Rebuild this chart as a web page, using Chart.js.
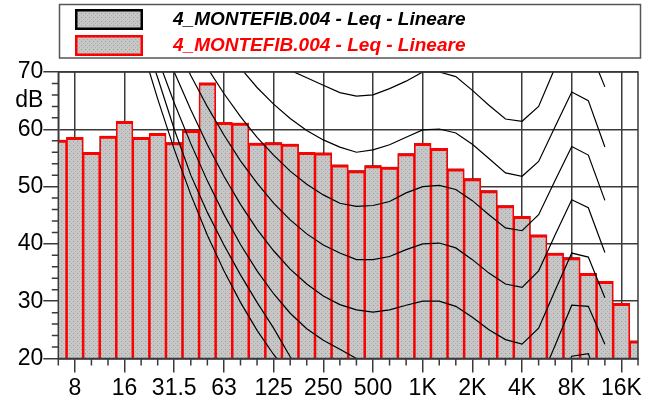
<!DOCTYPE html>
<html>
<head>
<meta charset="utf-8">
<script src="https://cdn.jsdelivr.net/npm/chart.js@4.4.1/dist/chart.umd.min.js"></script>
<style>
  html, body { margin: 0; padding: 0; background: #ffffff; }
  #wrap { width: 651px; height: 403px; position: relative; }
</style>
</head>
<body>
<div id="wrap"><canvas id="spectrum" width="651" height="403"></canvas></div>
<script>
// Third-octave band centres (Hz), 6.3 Hz .. 20 kHz
const bands = ['6.3','8','10','12.5','16','20','25','31.5','40','50','63','80','100','125','160','200','250','315','400','500','630','800','1K','1.25K','1.6K','2K','2.5K','3.15K','4K','5K','6.3K','8K','10K','12.5K','16K','20K'];
// Octave bands that carry a label and a vertical grid line
const octaveLabels = ['8','16','31.5','63','125','250','500','1K','2K','4K','8K','16K'];

// Linear Leq per band (dB)
const leq = [58.1,58.6,56.0,58.8,61.4,58.6,59.3,57.7,59.8,68.1,61.2,61.1,57.6,57.7,57.4,56.0,55.9,53.8,52.8,53.65,53.4,55.75,57.55,56.7,53.1,51.4,49.3,46.7,44.8,41.6,38.4,37.6,34.85,33.45,29.65,23.1];

// Equal-loudness contours (dB per band, null where not drawn)
const phon0  = [null,null,null,null,85,74.8,65.3,56.5,48.6,41.5,35.3,29.8,24.9,20.7,17.0,14.0,null,null,null,null,null,null,null,null,null,null,null,null,null,null,null,null,null,null,null,null];
const phon10 = [null,null,null,null,88,77.5,69,60,52,45.5,39.8,34.6,29.8,25.3,20.3,16.5,14,12.5,11.5,10.8,10.3,10,10,10,9.3,7.5,5.3,4,3.3,6.3,13.5,20.4,20.85,13.2,null,null];
const phon20 = [null,null,null,null,null,80.8,72.4,64.6,57.5,51.0,45.15,39.9,35.3,31.3,27.9,25.2,23.2,21.6,20.0,19.2,19.1,19.5,20.0,20.0,19.1,17.4,15.3,13.8,13.0,15.5,22.3,29.3,29.1,22.5,null,null];
const phon30 = [null,null,null,null,null,null,77.2,70.0,63.4,57.3,51.8,46.9,42.55,38.8,35.6,33.0,30.9,29.4,28.5,28.1,28.5,29.3,30.0,30.0,29.1,27.2,25.0,23.3,22.5,25.3,31.9,38.4,37.7,30.6,null,null];
const phon40 = [null,null,null,null,null,null,null,75.4,69.4,63.95,59.0,54.5,50.6,47.1,44.2,41.75,39.8,38.4,37.25,37.25,37.8,39.0,40.0,40.15,39.3,37.25,34.9,33.0,32.4,35.3,41.6,47.7,46.3,38.5,null,null];
const phon50 = [null,null,null,null,null,null,null,null,75.6,70.7,66.25,62.2,58.6,55.5,52.7,50.4,48.55,47.1,46.55,46.7,47.4,48.9,50.0,50.2,49.5,47.55,45.1,42.8,42.3,45.1,51.1,57.0,55.5,47.6,null,null];
const phon60 = [null,null,null,null,null,null,null,null,null,null,74.5,70.7,67.3,64.4,61.9,59.8,58.15,56.9,56.0,56.4,57.3,58.6,59.9,60.05,59.35,57.4,54.9,52.4,51.8,54.4,60.5,66.5,65.0,56.9,null,null];
const phon70 = [null,null,null,null,null,null,null,null,null,null,null,null,74.5,72.3,70.3,69.0,67.7,66.4,65.8,66.0,67.1,68.4,70.0,70.0,69.2,66.8,64.2,61.8,61.4,64.0,70.8,76.2,74.5,67.4,null,null];
const contours = [phon0, phon10, phon20, phon30, phon40, phon50, phon60, phon70];

// Y axis range and steps (dB)
const yMin = 20, yMax = 70, yLabelStep = 10, yMinorStep = 2;

const FONT = '"Liberation Sans", Arial, Helvetica, sans-serif';
const GRID = '#3a3a3a';
const SERIES_NAME = '4_MONTEFIB.004 - Leq - Lineare';

const canvas = document.getElementById('spectrum');
const ctx2d = canvas.getContext('2d');

// Dotted grey fill used for the bars and the legend swatches
function makeStipple() {
  const t = document.createElement('canvas');
  t.width = 4; t.height = 4;
  const g = t.getContext('2d');
  g.fillStyle = '#c6c6c6'; g.fillRect(0, 0, 4, 4);
  g.fillStyle = '#9c9c9c'; g.fillRect(1, 1, 1, 1);
  g.fillStyle = '#b2b2b2'; g.fillRect(3, 3, 1, 1);
  return ctx2d.createPattern(t, 'repeat');
}
const stipple = makeStipple();

const isOctave = i => octaveLabels.includes(bands[i]);

// Short minor tick marks on both axes
const minorTicks = {
  id: 'minorTicks',
  afterDraw(chart) {
    const { ctx, chartArea: a, scales: { x, y } } = chart;
    ctx.save();
    ctx.strokeStyle = GRID;
    ctx.lineWidth = 1.5;
    ctx.beginPath();
    bands.forEach((b, i) => {
      if (isOctave(i)) return;
      const px = x.getPixelForValue(i);
      ctx.moveTo(px, a.bottom);
      ctx.lineTo(px, a.bottom + 7);
    });
    for (let v = yMin; v <= yMax; v += yMinorStep) {
      if (v % yLabelStep === 0) continue;
      const py = y.getPixelForValue(v);
      ctx.moveTo(a.left - 6.5, py);
      ctx.lineTo(a.left, py);
    }
    ctx.stroke();
    ctx.restore();
  }
};

// Frame round the plotting area, above the bars
const plotFrame = {
  id: 'plotFrame',
  afterDatasetsDraw(chart) {
    const { ctx, chartArea: a } = chart;
    ctx.save();
    ctx.strokeStyle = GRID;
    ctx.lineWidth = 1.5;
    ctx.strokeRect(a.left, a.top, a.right - a.left, a.bottom - a.top);
    ctx.restore();
  }
};

// Boxed legend with one row per bar series, in dataset order
const boxedLegend = {
  id: 'boxedLegend',
  afterDraw(chart) {
    const { ctx } = chart;
    const items = chart.data.datasets.filter(d => d.type === 'bar');
    ctx.save();
    ctx.strokeStyle = '#555555';
    ctx.lineWidth = 1.5;
    ctx.strokeRect(59.5, 4.5, 581, 53.5);
    items.forEach((d, k) => {
      const top = 9 + k * 26;
      ctx.fillStyle = stipple;
      ctx.fillRect(75, top, 68, 21);
      ctx.strokeStyle = d.borderColor;
      ctx.lineWidth = 2.5;
      ctx.strokeRect(76.25, top + 1.25, 65.5, 18.5);
      ctx.fillStyle = d.borderColor;
      ctx.font = 'italic bold 19px ' + FONT;
      ctx.textBaseline = 'alphabetic';
      ctx.textAlign = 'left';
      ctx.fillText(d.label, 173, top + 16);
    });
    ctx.restore();
  }
};

const lineSets = contours.map((data, k) => ({
  type: 'line',
  label: (k * 10) + ' phon',
  data,
  borderColor: '#000000',
  borderWidth: 1.2,
  pointRadius: 0,
  tension: 0,
  fill: false,
  spanGaps: false,
  order: 0
}));

const barBase = {
  type: 'bar',
  label: SERIES_NAME,
  data: leq,
  backgroundColor: stipple,
  borderWidth: { top: 3, left: 1.6, right: 1.6, bottom: 0 },
  borderSkipped: false,
  barPercentage: 1,
  categoryPercentage: 1,
  grouped: false,
  clip: 0
};

new Chart(canvas, {
  data: {
    labels: bands,
    datasets: [
      ...lineSets,
      Object.assign({}, barBase, { borderColor: '#000000', order: 2 }),
      Object.assign({}, barBase, { borderColor: '#ff0000', order: 1 })
    ]
  },
  options: {
    responsive: false,
    devicePixelRatio: 1,
    animation: false,
    events: [],
    layout: { padding: { top: 72, right: 13, left: 0, bottom: 0 } },
    plugins: { legend: { display: false }, tooltip: { enabled: false } },
    scales: {
      x: {
        type: 'category',
        offset: false,
        grid: {
          offset: false,
          color: c => isOctave(c.index) ? GRID : 'rgba(0,0,0,0)',
          tickColor: c => isOctave(c.index) ? GRID : 'rgba(0,0,0,0)',
          lineWidth: 1.5,
          tickLength: 14
        },
        border: { color: GRID, width: 1.5 },
        ticks: {
          autoSkip: false,
          maxRotation: 0,
          minRotation: 0,
          padding: 2,
          color: '#000000',
          font: { family: FONT, size: 23 },
          callback: (v, i) => isOctave(i) ? bands[i] : ''
        },
        afterFit: s => { s.height = 44.5; }
      },
      y: {
        min: yMin,
        max: yMax,
        grid: {
          color: c => (c.tick && c.tick.value % yLabelStep === 0) ? GRID : 'rgba(0,0,0,0)',
          tickColor: c => (c.tick && c.tick.value % yLabelStep === 0) ? GRID : 'rgba(0,0,0,0)',
          lineWidth: 1.5,
          tickLength: 15
        },
        border: { color: GRID, width: 1.5 },
        ticks: {
          stepSize: 5,
          autoSkip: false,
          padding: 0,
          color: '#000000',
          font: { family: FONT, size: 23 },
          callback: v => v % yLabelStep === 0 ? String(v) : (v === 65 ? 'dB' : '')
        },
        afterFit: s => { s.width = 58.3; }
      }
    }
  },
  plugins: [minorTicks, plotFrame, boxedLegend]
});
</script>
</body>
</html>
